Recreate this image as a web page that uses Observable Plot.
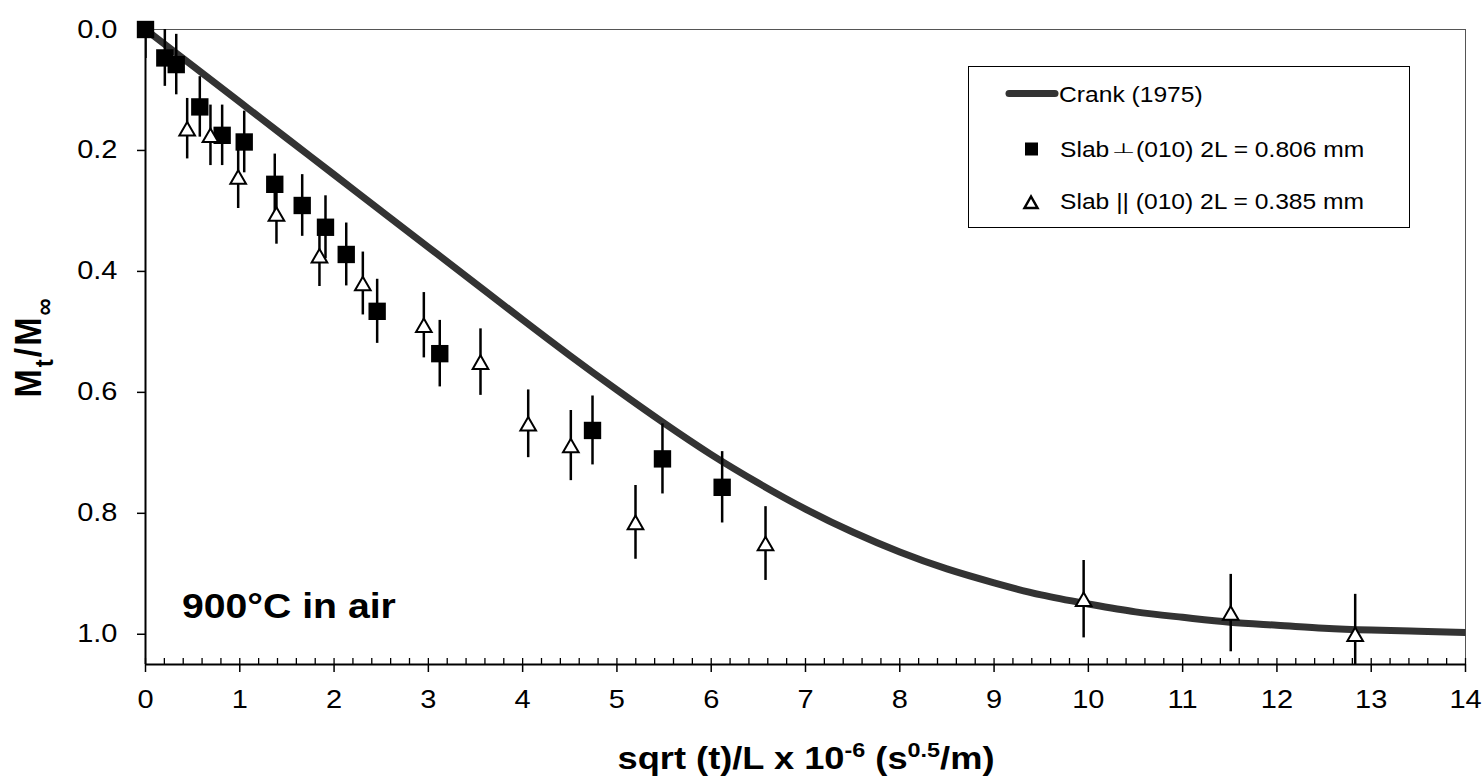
<!DOCTYPE html>
<html><head><meta charset="utf-8">
<script src="https://cdn.jsdelivr.net/npm/d3@7"></script>
<script src="https://cdn.jsdelivr.net/npm/@observablehq/plot@0.6"></script>
<style>body{margin:0;background:#fff}</style>
</head><body><div id="chart"></div>
<script>
// Slab ⊥ (010) 2L = 0.806 mm  (filled squares)
const squareX = [0, 0.205, 0.326, 0.576, 0.813, 1.047, 1.371, 1.662, 1.909, 2.129, 2.457, 3.121, 4.741, 5.483, 6.116];
const squareY = [0, 0.047, 0.058, 0.128, 0.175, 0.186, 0.256, 0.291, 0.327, 0.372, 0.466, 0.536, 0.663, 0.710, 0.757];
const squareErr = [0.048, 0.047, 0.050, 0.050, 0.050, 0.051, 0.050, 0.051, 0.052, 0.052, 0.053, 0.055, 0.057, 0.058, 0.059];
// Slab || (010) 2L = 0.385 mm  (open triangles)
const triX = [0.442, 0.689, 0.983, 1.389, 1.845, 2.305, 2.952, 3.553, 4.059, 4.511, 5.197, 6.576, 9.95, 11.51, 12.83];
const triY = [0.164, 0.175, 0.244, 0.305, 0.374, 0.420, 0.489, 0.550, 0.652, 0.688, 0.815, 0.850, 0.942, 0.965, 1.0];
const triErr = [0.050, 0.050, 0.052, 0.050, 0.051, 0.052, 0.054, 0.055, 0.056, 0.058, 0.061, 0.061, 0.064, 0.064, 0.066];
// Crank (1975) curve
const crankX = [0, 0.5, 1, 1.5, 2, 2.5, 3, 3.5, 4, 4.5, 5, 5.5, 6, 6.5, 7, 7.5, 8, 8.5, 9, 9.5, 10, 10.5, 11, 11.5, 12, 12.5, 13, 13.5, 14];
const crankY = [0, 0.060, 0.120, 0.180, 0.240, 0.300, 0.360, 0.420, 0.480, 0.539, 0.596, 0.651, 0.703, 0.750, 0.793, 0.831, 0.864, 0.892, 0.915, 0.935, 0.950, 0.963, 0.972, 0.980, 0.985, 0.990, 0.993, 0.995, 0.997];
// ticks
const xMajorTicks = [0,1,2,3,4,5,6,7,8,9,10,11,12,13,14];
const xMinorTicks = d3.range(0, 70 + 1).map(i => i / 5);
const yTicks = [0, 0.2, 0.4, 0.6, 0.8, 1.0];
const legendLabels = ["Crank (1975)", "Slab", "⊥", "(010) 2L = 0.806 mm", "Slab || (010) 2L = 0.385 mm"];

const squares = squareX.map((x, i) => ({x, y: squareY[i], e: squareErr[i]}));
const tris = triX.map((x, i) => ({x, y: triY[i], e: triErr[i]}));
const crank = crankX.map((x, i) => ({x, y: crankY[i]}));

const FONT = "'Liberation Sans', Arial, Helvetica, sans-serif";
const SX = 1.16;

const plot = Plot.plot({
  width: 1484, height: 779,
  marginLeft: 145, marginRight: 19, marginTop: 29, marginBottom: 115,
  style: {fontFamily: FONT, fontSize: "25px", color: "#000", background: "#fff"},
  x: {domain: [0, 14]},
  y: {domain: [0, 1.05], reverse: true},
  marks: [
    Plot.frame({stroke: "#555", strokeWidth: 1}),
    Plot.ruleX(xMinorTicks, {insetTop: 629, stroke: "#000", strokeWidth: 1.3}),
    Plot.axisX({ticks: xMajorTicks, tickSize: 8, tickPadding: 18, tickFormat: d => String(d), label: null, fontSize: 25, strokeWidth: 1.5}),
    Plot.axisY({ticks: yTicks, tickSize: 8, tickPadding: 20, tickFormat: d3.format(".1f"), label: null, fontSize: 25, strokeWidth: 1.5}),
    Plot.ruleX([0], {stroke: "#000", strokeWidth: 2}),
    Plot.ruleY([1.05], {stroke: "#000", strokeWidth: 2}),
    Plot.line(crank, {x: "x", y: "y", stroke: "#333", strokeWidth: 7, curve: "natural", strokeLinecap: "butt"}),
    Plot.ruleX(squares, {x: "x", y1: d => d.y - d.e, y2: d => d.y + d.e, stroke: "#000", strokeWidth: 2.5, clip: true}),
    Plot.dot(squares, {x: "x", y: "y", symbol: "square", r: 9.8, fill: "#000"}),
    Plot.ruleX(tris, {x: "x", y1: d => d.y - d.e, y2: d => d.y + d.e, stroke: "#000", strokeWidth: 2.5, clip: true}),
    Plot.dot(tris, {x: "x", y: "y", symbol: "triangle", r: 5.8, fill: "#fff", stroke: "#000", strokeWidth: 2, dy: 2.25})
  ]
});

const svg = d3.select(plot);
// horizontally widen tick labels like the reference
svg.selectAll('g[aria-label="x-axis tick label"] text, g[aria-label="y-axis tick label"] text').each(function() {
  const t = this.getAttribute("transform") || "";
  this.setAttribute("transform", t + ` scale(${SX},1)`);
});

const g = svg.append("g").attr("font-family", FONT).attr("fill", "#000").attr("text-anchor", "start");

// y-axis label Mt/M∞
const yl = g.append("text").attr("transform", `translate(41,347) scale(1.1,1) rotate(-90)`)
  .attr("text-anchor", "middle").attr("font-weight", "bold").attr("font-size", 34).attr("letter-spacing", 2);
yl.append("tspan").text("M");
yl.append("tspan").attr("font-size", 24).attr("dy", 11).text("t");
yl.append("tspan").attr("dy", -11).text("/M");
yl.append("tspan").attr("font-size", 24).attr("dy", 11).text("∞");

// x-axis label
const xl = g.append("text").attr("transform", `translate(806,769) scale(1.17,1)`)
  .attr("text-anchor", "middle").attr("font-weight", "bold").attr("font-size", 31);
xl.append("tspan").text("sqrt (t)/L x 10");
xl.append("tspan").attr("font-size", 20).attr("dy", -12).text("-6");
xl.append("tspan").attr("dy", 12).text(" (s");
xl.append("tspan").attr("font-size", 20).attr("dy", -12).text("0.5");
xl.append("tspan").attr("dy", 12).text("/m)");

// annotation
g.append("text").attr("transform", `translate(182,618) scale(1.12,1)`)
  .attr("text-anchor", "start").attr("font-weight", "bold").attr("font-size", 35).text("900°C in air");

// legend
const LS = 1.12;
const lg = g.append("g").attr("text-anchor", "start").attr("font-size", 22);
lg.append("rect").attr("x", 968.5).attr("y", 66.5).attr("width", 441).attr("height", 161)
  .attr("fill", "#fff").attr("stroke", "#000").attr("stroke-width", 1);
lg.append("path").attr("d", "M1009,93.5L1055,93.5").attr("stroke", "#333").attr("stroke-width", 7).attr("stroke-linecap", "round");
lg.append("text").attr("transform", `translate(1059,101.5) scale(${LS},1)`).text(legendLabels[0]);
lg.append("rect").attr("x", 1025).attr("y", 142.5).attr("width", 13).attr("height", 13).attr("fill", "#000");
lg.append("text").attr("transform", `translate(1060,156.5) scale(${LS},1)`).text(legendLabels[1]);
lg.append("text").attr("transform", `translate(1112,152.5) scale(1.9,1)`)
  .attr("font-family", "'DejaVu Sans', sans-serif").attr("font-size", 14).text(legendLabels[2]);
lg.append("text").attr("transform", `translate(1136,156.5) scale(${LS},1)`).text(legendLabels[3]);
lg.append("path").attr("d", "M1031,196.5L1024.5,208L1037.5,208Z").attr("fill", "#fff").attr("stroke", "#000").attr("stroke-width", 2.5);
lg.append("text").attr("transform", `translate(1060,208.5) scale(${LS},1)`).text(legendLabels[4]);

document.getElementById("chart").appendChild(plot);
</script>
</body></html>
